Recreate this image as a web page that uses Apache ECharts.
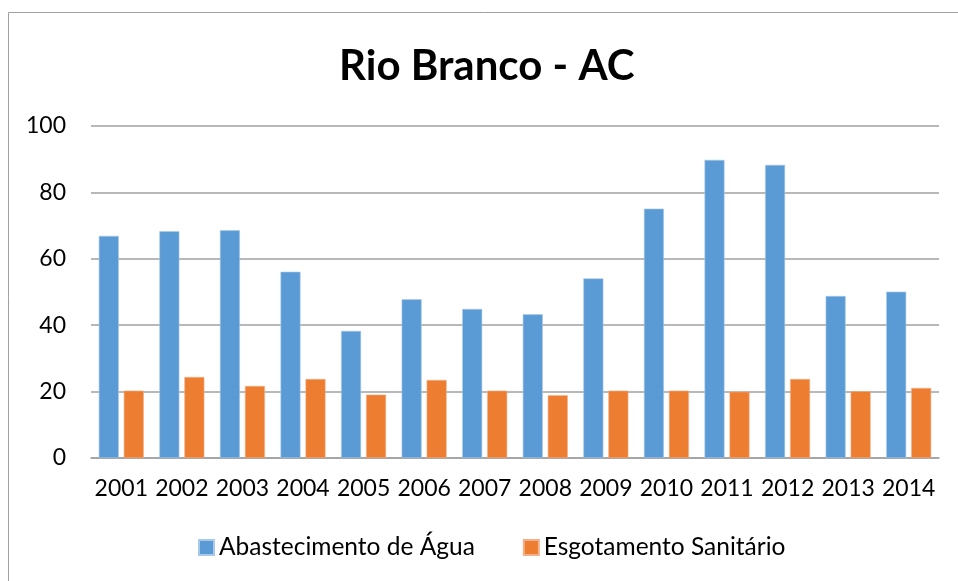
<!DOCTYPE html>
<html>
<head>
<meta charset="utf-8">
<script src="https://cdn.jsdelivr.net/npm/echarts@6/dist/echarts.min.js"></script>
<style>
  html, body { margin: 0; padding: 0; background: #fff; }
  #chart { width: 958px; height: 581px; }
</style>
</head>
<body>
<div id="chart"></div>
<script>
// dados
var anos = ['2001', '2002', '2003', '2004', '2005', '2006', '2007',
            '2008', '2009', '2010', '2011', '2012', '2013', '2014'];
var abastecimento = [66.9, 68.3, 68.6, 56.1, 38.3, 47.8, 44.9,
                     43.3, 54.1, 75.1, 89.8, 88.3, 48.8, 50.1];
var esgotamento = [20.3, 24.4, 21.7, 23.8, 19.1, 23.5, 20.3,
                   18.9, 20.3, 20.3, 20.0, 23.8, 20.1, 21.1];
var yTicks = [0, 20, 40, 60, 80, 100];

var fonte = 'Lato, "Open Sans", sans-serif';

var chart = echarts.init(document.getElementById('chart'));
chart.setOption({
  animation: false,
  backgroundColor: '#fff',
  title: {
    text: 'Rio Branco - AC',
    left: 339,
    top: 45,
    padding: 0,
    textStyle: { fontFamily: fonte, fontWeight: 'bold', fontSize: 42, color: '#000' }
  },
  legend: {
    left: 198,
    top: 535,
    padding: 0,
    itemWidth: 15,
    itemHeight: 15,
    itemGap: 48,
    icon: 'rect',
    textStyle: { fontFamily: fonte, fontSize: 24.5, color: '#000' },
    data: ['Abastecimento de Água', 'Esgotamento Sanitário']
  },
  graphic: [{
    type: 'rect',
    shape: { x: 8.5, y: 12.5, width: 1000, height: 1000 },
    style: { fill: 'none', stroke: '#a0a0a0', lineWidth: 1 },
    silent: true
  }],
  grid: { left: 91, right: 19, top: 126, bottom: 123 },
  xAxis: {
    type: 'category',
    data: anos,
    axisLine: { lineStyle: { color: '#a0a0a0', width: 1.5 } },
    axisTick: { show: false },
    axisLabel: { interval: 0, fontFamily: fonte, fontSize: 23, color: '#000', margin: 19 }
  },
  yAxis: {
    type: 'value',
    min: yTicks[0],
    max: yTicks[yTicks.length - 1],
    interval: 20,
    axisLine: { show: false },
    axisTick: { show: false },
    axisLabel: { fontFamily: fonte, fontSize: 23, color: '#000', margin: 25 },
    splitLine: { lineStyle: { color: '#a0a0a0', width: 1.5 } }
  },
  series: [{
    name: 'Abastecimento de Água',
    type: 'bar',
    data: abastecimento,
    barWidth: 20,
    barGap: '25%',
    itemStyle: { color: '#5B9BD5', borderColor: '#a9c9ea', borderWidth: 0.6 }
  }, {
    name: 'Esgotamento Sanitário',
    type: 'bar',
    data: esgotamento,
    barWidth: 20,
    itemStyle: { color: '#ED7D31', borderColor: '#f4b08a', borderWidth: 0.6 }
  }]
});
</script>
</body>
</html>
